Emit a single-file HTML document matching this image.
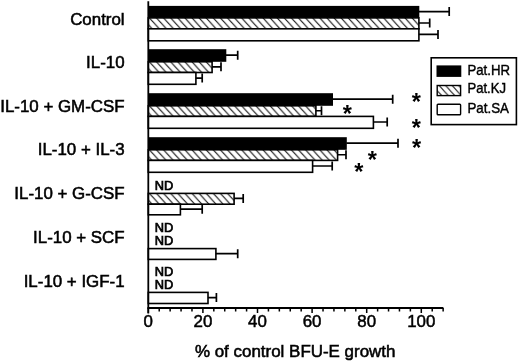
<!DOCTYPE html>
<html><head><meta charset="utf-8"><title>BFU-E growth</title>
<style>
html,body{margin:0;padding:0;background:#fff;}
body{width:520px;height:362px;overflow:hidden;}
svg{display:block;}
text{font-family:"Liberation Sans",sans-serif;fill:#000;stroke:#000;stroke-width:.3px;}
.cat{font-size:16.9px;stroke-width:.55px;}
.tick{font-size:16.9px;stroke-width:.5px;}
.title{font-size:16.95px;stroke-width:.55px;}
.leg{font-size:14.3px;stroke-width:.4px;}
.nd{font-size:12.3px;stroke-width:.7px;}
.star{font-size:23.5px;font-weight:bold;stroke:none;}
</style></head><body>
<svg width="520" height="362" viewBox="0 0 520 362">
<defs>
<pattern id="h" patternUnits="userSpaceOnUse" width="6.5" height="7.15" x="439.1" y="85.5"><rect width="6.5" height="7.15" fill="#fff"/><path d="M-1.3 -1.43L7.8 8.58M-7.8 -1.43L1.3 8.58M5.2 -1.43L14.3 8.58" stroke="#000" stroke-width="1"/></pattern>
</defs>
<rect width="520" height="362" fill="#fff"/>
<rect x="148.30" y="5.90" width="271.00" height="12.00" fill="#000"/>
<path d="M418.80 11.55H449.20M449.20 7.05V16.05" stroke="#000" stroke-width="1.7" fill="none"/>
<pattern id="h0" patternUnits="userSpaceOnUse" width="7.1" height="7.8" x="149.4" y="17.90"><rect width="7.1" height="7.8" fill="#fff"/><path d="M-1.42 -1.56L8.52 9.36M-8.52 -1.56L1.42 9.36M5.68 -1.56L15.62 9.36" stroke="#000" stroke-width="1"/></pattern>
<rect x="148.30" y="17.90" width="270.60" height="10.90" fill="url(#h0)" stroke="#000" stroke-width="1.6"/>
<path d="M418.80 23.00H429.70M429.70 18.50V27.50" stroke="#000" stroke-width="1.7" fill="none"/>
<rect x="148.30" y="28.80" width="270.60" height="12.00" fill="#fff" stroke="#000" stroke-width="1.6"/>
<path d="M418.80 34.45H438.00M438.00 29.95V38.95" stroke="#000" stroke-width="1.7" fill="none"/>
<rect x="148.30" y="49.20" width="78.00" height="12.60" fill="#000"/>
<path d="M225.80 55.15H237.70M237.70 50.65V59.65" stroke="#000" stroke-width="1.7" fill="none"/>
<pattern id="h1" patternUnits="userSpaceOnUse" width="7.1" height="7.8" x="149.4" y="61.80"><rect width="7.1" height="7.8" fill="#fff"/><path d="M-1.42 -1.56L8.52 9.36M-8.52 -1.56L1.42 9.36M5.68 -1.56L15.62 9.36" stroke="#000" stroke-width="1"/></pattern>
<rect x="148.30" y="61.80" width="63.80" height="10.70" fill="url(#h1)" stroke="#000" stroke-width="1.6"/>
<path d="M212.00 66.80H221.00M221.00 62.30V71.30" stroke="#000" stroke-width="1.7" fill="none"/>
<rect x="148.30" y="72.50" width="47.60" height="11.80" fill="#fff" stroke="#000" stroke-width="1.6"/>
<path d="M195.80 78.05H202.20M202.20 73.55V82.55" stroke="#000" stroke-width="1.7" fill="none"/>
<rect x="148.30" y="93.20" width="184.70" height="12.60" fill="#000"/>
<path d="M332.50 99.15H392.70M392.70 94.65V103.65" stroke="#000" stroke-width="1.7" fill="none"/>
<pattern id="h2" patternUnits="userSpaceOnUse" width="7.1" height="7.8" x="149.4" y="105.80"><rect width="7.1" height="7.8" fill="#fff"/><path d="M-1.42 -1.56L8.52 9.36M-8.52 -1.56L1.42 9.36M5.68 -1.56L15.62 9.36" stroke="#000" stroke-width="1"/></pattern>
<rect x="148.30" y="105.80" width="167.60" height="10.60" fill="url(#h2)" stroke="#000" stroke-width="1.6"/>
<path d="M315.80 110.75H321.50M321.50 106.25V115.25" stroke="#000" stroke-width="1.7" fill="none"/>
<rect x="148.30" y="116.40" width="225.10" height="11.90" fill="#fff" stroke="#000" stroke-width="1.6"/>
<path d="M373.30 122.00H387.20M387.20 117.50V126.50" stroke="#000" stroke-width="1.7" fill="none"/>
<rect x="148.30" y="137.20" width="198.50" height="12.60" fill="#000"/>
<path d="M346.30 143.15H398.00M398.00 138.65V147.65" stroke="#000" stroke-width="1.7" fill="none"/>
<pattern id="h3" patternUnits="userSpaceOnUse" width="7.1" height="7.8" x="149.4" y="149.80"><rect width="7.1" height="7.8" fill="#fff"/><path d="M-1.42 -1.56L8.52 9.36M-8.52 -1.56L1.42 9.36M5.68 -1.56L15.62 9.36" stroke="#000" stroke-width="1"/></pattern>
<rect x="148.30" y="149.80" width="189.30" height="10.60" fill="url(#h3)" stroke="#000" stroke-width="1.6"/>
<path d="M337.50 154.75H346.00M346.00 150.25V159.25" stroke="#000" stroke-width="1.7" fill="none"/>
<rect x="148.30" y="160.40" width="164.30" height="11.90" fill="#fff" stroke="#000" stroke-width="1.6"/>
<path d="M312.50 166.00H332.20M332.20 161.50V170.50" stroke="#000" stroke-width="1.7" fill="none"/>
<text class="nd" x="154.8" y="190" textLength="18.5" lengthAdjust="spacingAndGlyphs">ND</text>
<pattern id="h4" patternUnits="userSpaceOnUse" width="7.1" height="7.8" x="149.4" y="193.40"><rect width="7.1" height="7.8" fill="#fff"/><path d="M-1.42 -1.56L8.52 9.36M-8.52 -1.56L1.42 9.36M5.68 -1.56L15.62 9.36" stroke="#000" stroke-width="1"/></pattern>
<rect x="148.30" y="193.40" width="85.80" height="10.80" fill="url(#h4)" stroke="#000" stroke-width="1.6"/>
<path d="M234.00 198.45H243.20M243.20 193.95V202.95" stroke="#000" stroke-width="1.7" fill="none"/>
<rect x="148.30" y="204.20" width="32.10" height="10.60" fill="#fff" stroke="#000" stroke-width="1.6"/>
<path d="M180.30 209.15H202.20M202.20 204.65V213.65" stroke="#000" stroke-width="1.7" fill="none"/>
<text class="nd" x="154.8" y="232" textLength="18.5" lengthAdjust="spacingAndGlyphs">ND</text>
<text class="nd" x="154.8" y="245.0" textLength="18.5" lengthAdjust="spacingAndGlyphs">ND</text>
<rect x="148.30" y="248.60" width="67.60" height="10.80" fill="#fff" stroke="#000" stroke-width="1.6"/>
<path d="M215.80 253.65H237.70M237.70 249.15V258.15" stroke="#000" stroke-width="1.7" fill="none"/>
<text class="nd" x="154.8" y="276" textLength="18.5" lengthAdjust="spacingAndGlyphs">ND</text>
<text class="nd" x="154.8" y="289" textLength="18.5" lengthAdjust="spacingAndGlyphs">ND</text>
<rect x="148.30" y="292.40" width="59.70" height="11.10" fill="#fff" stroke="#000" stroke-width="1.6"/>
<path d="M207.90 297.60H216.40M216.40 293.10V302.10" stroke="#000" stroke-width="1.7" fill="none"/>
<path d="M148.3 1.2V313.5" stroke="#000" stroke-width="1.8" fill="none"/>
<path d="M147.4 308H443.4" stroke="#000" stroke-width="1.8" fill="none"/>
<path d="M148.30 308V313M159.22 308V311.4M170.14 308V311.4M181.06 308V311.4M191.98 308V311.4M202.90 308V313M213.82 308V311.4M224.74 308V311.4M235.66 308V311.4M246.58 308V311.4M257.50 308V313M268.42 308V311.4M279.34 308V311.4M290.26 308V311.4M301.18 308V311.4M312.10 308V313M323.02 308V311.4M333.94 308V311.4M344.86 308V311.4M355.78 308V311.4M366.70 308V313M377.62 308V311.4M388.54 308V311.4M399.46 308V311.4M410.38 308V311.4M421.30 308V313M432.22 308V311.4M443.14 308V311.4" stroke="#000" stroke-width="1.5" fill="none"/>
<text class="tick" x="148.30" y="326.8" text-anchor="middle">0</text>
<text class="tick" x="202.90" y="326.8" text-anchor="middle">20</text>
<text class="tick" x="257.50" y="326.8" text-anchor="middle">40</text>
<text class="tick" x="312.10" y="326.8" text-anchor="middle">60</text>
<text class="tick" x="366.70" y="326.8" text-anchor="middle">80</text>
<text class="tick" x="421.30" y="326.8" text-anchor="middle">100</text>
<text class="title" x="295.2" y="356.8" text-anchor="middle">% of control BFU-E growth</text>
<text class="cat" x="124.6" y="25" text-anchor="end">Control</text>
<text class="cat" x="124.6" y="68" text-anchor="end">IL-10</text>
<text class="cat" x="124.6" y="112" text-anchor="end">IL-10 + GM-CSF</text>
<text class="cat" x="124.6" y="155" text-anchor="end">IL-10 + IL-3</text>
<text class="cat" x="124.6" y="199.25" text-anchor="end">IL-10 + G-CSF</text>
<text class="cat" x="124.6" y="243" text-anchor="end">IL-10 + SCF</text>
<text class="cat" x="124.6" y="287" text-anchor="end">IL-10 + IGF-1</text>
<text class="star" x="416.3" y="110.40" text-anchor="middle">*</text>
<text class="star" x="347.3" y="122.40" text-anchor="middle">*</text>
<text class="star" x="416.3" y="135.70" text-anchor="middle">*</text>
<text class="star" x="416.5" y="155.60" text-anchor="middle">*</text>
<text class="star" x="372.4" y="168.10" text-anchor="middle">*</text>
<text class="star" x="358.9" y="179.70" text-anchor="middle">*</text>
<rect x="431.2" y="57.8" width="85.2" height="66.8" fill="#fff" stroke="#000" stroke-width="1.6"/>
<rect x="436.5" y="65.4" width="24.8" height="11.5" fill="#000"/>
<rect x="437.2" y="85.5" width="23.4" height="10.1" fill="url(#h)" stroke="#000" stroke-width="1.4"/>
<rect x="437.2" y="104.3" width="23.4" height="10.4" rx="0.8" fill="#fff" stroke="#000" stroke-width="1.4"/>
<text class="leg" x="467.4" y="74.9" textLength="42.6" lengthAdjust="spacingAndGlyphs">Pat.HR</text>
<text class="leg" x="467.4" y="93.4" textLength="38.6" lengthAdjust="spacingAndGlyphs">Pat.KJ</text>
<text class="leg" x="467.4" y="112.6" textLength="41.6" lengthAdjust="spacingAndGlyphs">Pat.SA</text>
</svg>
</body></html>
